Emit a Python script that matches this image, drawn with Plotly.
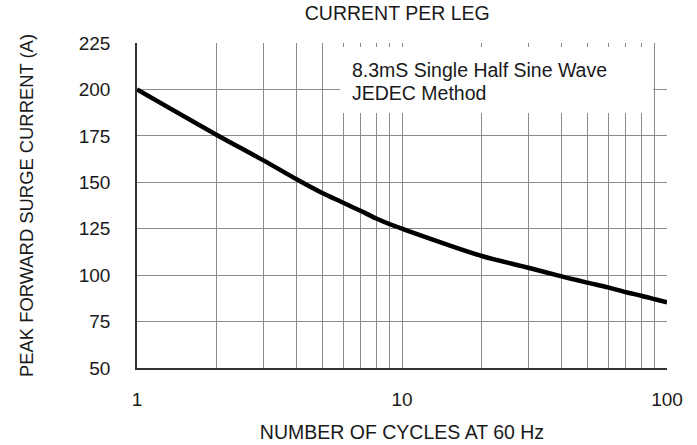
import plotly.graph_objects as go

cycles = [1, 2, 3, 4, 5, 6, 7, 8, 9, 10, 20, 30, 40, 50, 60, 70, 80, 90, 100]
current = [200, 175.5, 161.8, 151.6, 144.2, 139, 134.5, 130.5, 127.4, 125, 110.3, 104, 99.3, 96, 93.4, 90.8, 88.9, 87, 85.3]

x_ticks = [1, 10, 100]
x_minor = [2, 3, 4, 5, 6, 7, 8, 9, 20, 30, 40, 50, 60, 70, 80, 90]
y_ticks = [50, 75, 100, 125, 150, 175, 200, 225]

title_text = "CURRENT PER LEG"
x_title = "NUMBER OF CYCLES AT 60 Hz"
y_title = "PEAK FORWARD SURGE CURRENT (A)"
note_lines = ["8.3mS Single Half Sine Wave", "JEDEC Method"]

FONT = "Liberation Sans, Arial, sans-serif"
TXT = "#1a1a1a"
GRID = "#8a8a8a"

fig = go.Figure()
fig.add_trace(go.Scatter(x=cycles, y=current, mode="lines",
                         line=dict(color="black", width=4.5, shape="spline", smoothing=0.8),
                         showlegend=False, hoverinfo="skip"))

fig.update_layout(
    width=697, height=445,
    margin=dict(l=137, r=30, t=43, b=77),
    paper_bgcolor="white", plot_bgcolor="white",
    font=dict(family=FONT, color=TXT, size=19),
    title=dict(text=title_text, x=0.491, xref="paper", xanchor="center",
               y=0.971, yref="container", yanchor="middle",
               font=dict(size=19.5, family=FONT, color=TXT)),
)

fig.update_xaxes(
    type="log", range=[0, 2], tickvals=x_ticks, ticktext=[str(v) for v in x_ticks],
    showgrid=True, gridcolor=GRID, gridwidth=1,
    minor=dict(tickvals=x_minor, showgrid=True, gridcolor=GRID, gridwidth=1, ticks=""),
    ticks="", ticklabelstandoff=13,
    showline=True, linecolor="#333", linewidth=1.5,
    zeroline=False, automargin=False,
    tickfont=dict(size=19, family=FONT, color=TXT),
    title=dict(text=x_title, standoff=17, font=dict(size=19.5, family=FONT, color=TXT)),
)
fig.update_yaxes(
    range=[50, 225], tickvals=y_ticks,
    showgrid=True, gridcolor=GRID, gridwidth=1,
    ticks="", ticklabelstandoff=21,
    showline=True, linecolor="#333", linewidth=1.5,
    zeroline=False, automargin=False,
    tickfont=dict(size=19, family=FONT, color=TXT),
    title=dict(text=y_title, standoff=40, font=dict(size=18.4, family=FONT, color=TXT)),
)

# white box behind the note text, covering the grid
fig.add_shape(type="rect", xref="paper", yref="paper",
              x0=0.383, x1=0.974, y0=0.785, y1=0.988,
              fillcolor="white", line=dict(width=0), layer="above")
fig.add_annotation(text=note_lines[0], xref="paper", yref="paper", x=0.402, y=0.917,
                   xanchor="left", yanchor="middle", showarrow=False,
                   font=dict(size=19.5, family=FONT, color=TXT))
fig.add_annotation(text=note_lines[1], xref="paper", yref="paper", x=0.402, y=0.846,
                   xanchor="left", yanchor="middle", showarrow=False,
                   font=dict(size=19.5, family=FONT, color=TXT))

fig.write_html("out.html", config={"displayModeBar": False},
               post_script="document.body.style.margin='0';document.body.style.overflow='hidden';")
